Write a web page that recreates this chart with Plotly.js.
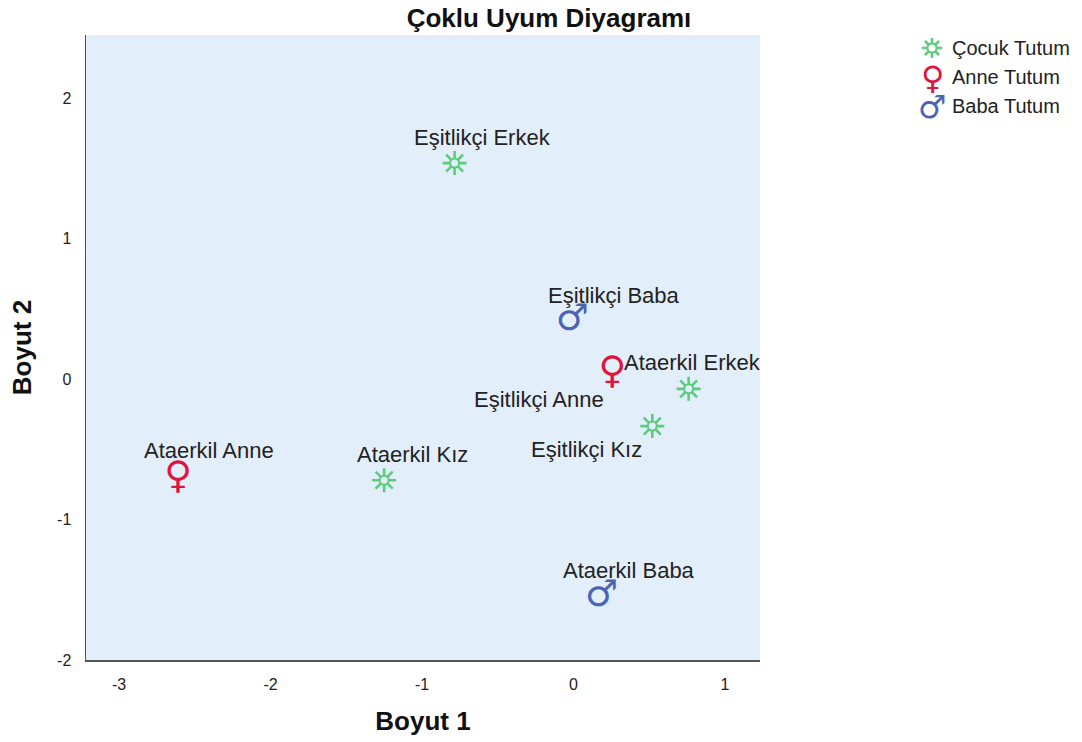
<!DOCTYPE html>
<html>
<head>
<meta charset="utf-8">
<script src="https://cdn.plot.ly/plotly-3.0.1.min.js"></script>
<style>html,body{margin:0;padding:0;background:#fff;}#chart{width:1082px;height:742px;}</style>
</head>
<body>
<div id="chart"></div>
<script>
// Data
const groups = ["Çocuk Tutum", "Anne Tutum", "Baba Tutum"];
const cocukLabels = ["Eşitlikçi Erkek", "Ataerkil Erkek", "Eşitlikçi Kız", "Ataerkil Kız"];
const cocukX = [-0.785, 0.76, 0.52, -1.25];
const cocukY = [1.537, -0.07, -0.335, -0.72];
const anneLabels = ["Eşitlikçi Anne", "Ataerkil Anne"];
const anneX = [0.257, -2.61];
const anneY = [0.036, -0.705];
const babaLabels = ["Eşitlikçi Baba", "Ataerkil Baba"];
const babaX = [-0.007, 0.185];
const babaY = [0.415, -1.55];

// label offsets (px) relative to each point, by label
const labelShift = {
  "Eşitlikçi Erkek": [28, 26],
  "Ataerkil Erkek": [4, 26],
  "Eşitlikçi Kız": [-66, -23],
  "Ataerkil Kız": [28, 26],
  "Eşitlikçi Anne": [-73, -26],
  "Ataerkil Anne": [31, 28],
  "Eşitlikçi Baba": [42, 25],
  "Ataerkil Baba": [27, 26]
};

const colors = ["#5ccb7c", "#e0143c", "#4a64b4"];
const glyphs = ["", "♀", "♂"];
const glyphSize = [0, 38, 37];
const legendGlyphSize = [0, 32, 32];
const FONT = "Liberation Sans, Arial, sans-serif";
const PLOTBG = "#e2eef9";

// Çocuk: sun-like 8-spoked star = asterisk spokes + hollow ring
const starTraces = [
  {symbol: "asterisk-open", size: 20, fill: colors[0], w: 2.6},
  {symbol: "circle", size: 9, fill: PLOTBG, w: 2}
].map(m => ({
  type: "scatter", mode: "markers", name: groups[0],
  x: cocukX, y: cocukY, hovertext: cocukLabels, hoverinfo: "text",
  marker: {symbol: m.symbol, size: m.size, color: m.fill, line: {color: colors[0], width: m.w}},
  showlegend: false
}));

const glyphTraces = [
  {labels: anneLabels, x: anneX, y: anneY, i: 1},
  {labels: babaLabels, x: babaX, y: babaY, i: 2}
].map(s => ({
  type: "scatter", mode: "text", name: groups[s.i],
  x: s.x, y: s.y,
  text: s.x.map(() => glyphs[s.i]),
  textposition: "middle center",
  textfont: {family: "DejaVu Sans", size: glyphSize[s.i], color: colors[s.i]},
  hovertext: s.labels, hoverinfo: "text", showlegend: false
}));

const annotations = [];
[
  {labels: cocukLabels, x: cocukX, y: cocukY},
  {labels: anneLabels, x: anneX, y: anneY},
  {labels: babaLabels, x: babaX, y: babaY}
].forEach(s => {
  s.labels.forEach((lab, j) => {
    const sh = labelShift[lab];
    annotations.push({
      x: s.x[j], y: s.y[j], xref: "x", yref: "y",
      text: lab, showarrow: false,
      xshift: sh[0], yshift: sh[1],
      font: {family: FONT, size: 22, color: "#222"}
    });
  });
});

// Legend built as annotations + shapes
const legX = (932 - 86) / 674, legTextX = (950 - 86) / 674;
const legY = i => 1 - (i * 29 + 13) / 625;
groups.forEach((g, i) => {
  annotations.push({
    xref: "paper", yref: "paper", x: legTextX, y: legY(i),
    xanchor: "left", yanchor: "middle", showarrow: false, text: g,
    font: {family: FONT, size: 20, color: "#222"}
  });
  if (glyphs[i]) {
    annotations.push({
      xref: "paper", yref: "paper", x: legX, y: legY(i), yshift: -1,
      xanchor: "center", yanchor: "middle", showarrow: false, text: glyphs[i],
      font: {family: "DejaVu Sans", size: legendGlyphSize[i], color: colors[i]}
    });
  }
});
const shapes = [
  {type: "path", xref: "paper", yref: "paper", xsizemode: "pixel", ysizemode: "pixel",
   xanchor: legX, yanchor: legY(0),
   path: "M -10 0 L 10 0 M 0 -10 L 0 10 M -7 -7 L 7 7 M -7 7 L 7 -7",
   line: {color: colors[0], width: 2.6}},
  {type: "circle", xref: "paper", yref: "paper", xsizemode: "pixel", ysizemode: "pixel",
   xanchor: legX, yanchor: legY(0), x0: -4.5, x1: 4.5, y0: -4.5, y1: 4.5,
   fillcolor: "#ffffff", line: {color: colors[0], width: 2}}
];

const layout = {
  width: 1082, height: 742,
  margin: {l: 86, r: 322, t: 35, b: 82, pad: 0},
  paper_bgcolor: "#ffffff",
  plot_bgcolor: PLOTBG,
  title: {text: "<b>Çoklu Uyum Diyagramı</b>", x: 549 / 1082, xanchor: "center", y: 1 - 18 / 742, yanchor: "middle",
          font: {family: FONT, size: 26, color: "#111"}},
  xaxis: {
    range: [-3.218, 1.231], tickvals: [-3, -2, -1, 0, 1], ticktext: ["-3", "-2", "-1", "0", "1"],
    showgrid: false, zeroline: false, showline: true, linecolor: "#555", linewidth: 1.5,
    ticks: "", ticklabelstandoff: 9,
    tickfont: {family: FONT, size: 16, color: "#222"},
    title: {text: "<b>Boyut 1</b>", standoff: 20, font: {family: FONT, size: 26, color: "#111"}}
  },
  yaxis: {
    range: [-2, 2.449], tickvals: [-2, -1, 0, 1, 2], ticktext: ["-2", "-1", "0", "1", "2"],
    showgrid: false, zeroline: false, showline: true, linecolor: "#555", linewidth: 1.5,
    ticks: "", ticklabelstandoff: 10,
    tickfont: {family: FONT, size: 16, color: "#222"},
    title: {text: "<b>Boyut 2</b>", standoff: 18, font: {family: FONT, size: 26, color: "#111"}}
  },
  showlegend: false,
  annotations: annotations,
  shapes: shapes
};

Plotly.newPlot("chart", starTraces.concat(glyphTraces), layout, {displayModeBar: false, staticPlot: true});
</script>
</body>
</html>
